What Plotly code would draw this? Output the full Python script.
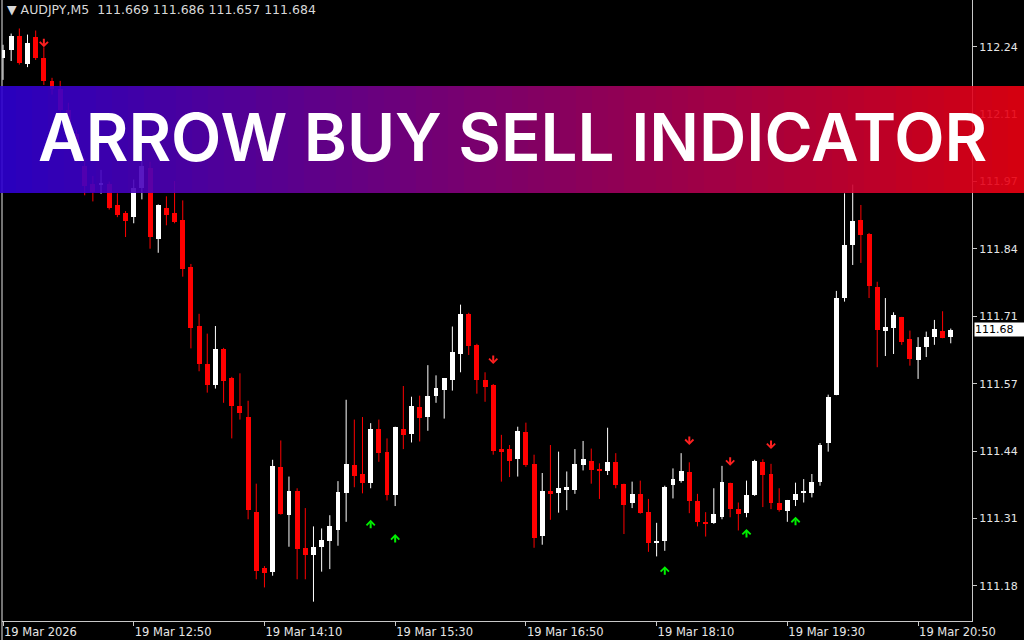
import plotly.graph_objects as go

# ---------------- data (AUDJPY M5, 19 Mar 2026) ----------------
start_minutes = 11 * 60 + 30
times = [f"{(start_minutes + 5 * i) // 60:02d}:{(start_minutes + 5 * i) % 60:02d}" for i in range(117)]

opens = [112.218, 112.233, 112.261, 112.207, 112.259, 112.217, 112.173, 112.157, 112.115, 112.069,
         112.006, 111.971, 111.969, 111.971, 111.928, 111.913, 111.905, 111.963, 112.002, 111.862,
         111.923, 111.913, 111.899, 111.808, 111.691, 111.617, 111.575, 111.646, 111.588, 111.533,
         111.513, 111.326, 111.215, 111.208, 111.413, 111.320, 111.367, 111.254, 111.241, 111.257,
         111.269, 111.289, 111.363, 111.418, 111.400, 111.382, 111.489, 111.444, 111.358, 111.489,
         111.479, 111.531, 111.513, 111.554, 111.565, 111.585, 111.636, 111.714, 111.653, 111.585,
         111.575, 111.449, 111.449, 111.430, 111.483, 111.419, 111.279, 111.367, 111.363, 111.369,
         111.369, 111.417, 111.426, 111.410, 111.405, 111.424, 111.381, 111.343, 111.361, 111.326,
         111.264, 111.269, 111.378, 111.387, 111.403, 111.347, 111.306, 111.303, 111.316, 111.383,
         111.331, 111.323, 111.359, 111.423, 111.400, 111.343, 111.328, 111.349, 111.362, 111.363,
         111.385, 111.461, 111.556, 111.747, 111.851, 111.900, 111.872, 111.767, 111.682, 111.687,
         111.708, 111.666, 111.624, 111.649, 111.670, 111.682, 111.669]
highs = [112.244, 112.266, 112.276, 112.264, 112.272, 112.239, 112.179, 112.173, 112.130, 112.077,
         112.022, 111.986, 111.998, 111.975, 111.952, 111.917, 111.979, 112.018, 112.014, 111.930,
         111.946, 111.976, 111.938, 111.813, 111.715, 111.676, 111.691, 111.648, 111.591, 111.598,
         111.544, 111.381, 111.219, 111.428, 111.466, 111.395, 111.372, 111.333, 111.297, 111.293,
         111.319, 111.386, 111.546, 111.507, 111.512, 111.500, 111.507, 111.470, 111.493, 111.573,
         111.552, 111.554, 111.614, 111.594, 111.588, 111.690, 111.733, 111.717, 111.656, 111.600,
         111.577, 111.477, 111.457, 111.493, 111.501, 111.438, 111.402, 111.457, 111.444, 111.405,
         111.449, 111.465, 111.450, 111.421, 111.491, 111.441, 111.381, 111.385, 111.387, 111.351,
         111.304, 111.377, 111.411, 111.441, 111.423, 111.361, 111.325, 111.372, 111.416, 111.383,
         111.344, 111.387, 111.428, 111.429, 111.420, 111.372, 111.349, 111.383, 111.390, 111.400,
         111.461, 111.556, 111.760, 111.952, 111.969, 111.929, 111.874, 111.778, 111.746, 111.718,
         111.709, 111.682, 111.669, 111.680, 111.703, 111.720, 111.686]
lows = [112.175, 112.212, 112.205, 112.200, 112.214, 112.165, 112.146, 112.110, 112.071, 112.014,
        111.948, 111.936, 111.951, 111.920, 111.905, 111.866, 111.893, 111.940, 111.843, 111.835,
        111.889, 111.893, 111.788, 111.647, 111.602, 111.560, 111.568, 111.540, 111.470, 111.507,
        111.311, 111.193, 111.177, 111.200, 111.320, 111.257, 111.193, 111.193, 111.149, 111.208,
        111.213, 111.259, 111.306, 111.374, 111.362, 111.372, 111.424, 111.348, 111.337, 111.449,
        111.462, 111.464, 111.485, 111.540, 111.509, 111.564, 111.600, 111.634, 111.558, 111.542,
        111.438, 111.385, 111.394, 111.395, 111.414, 111.255, 111.261, 111.310, 111.324, 111.329,
        111.361, 111.407, 111.381, 111.351, 111.398, 111.372, 111.282, 111.333, 111.322, 111.247,
        111.238, 111.249, 111.352, 111.383, 111.323, 111.297, 111.277, 111.302, 111.311, 111.315,
        111.289, 111.315, 111.357, 111.335, 111.331, 111.326, 111.306, 111.337, 111.344, 111.354,
        111.377, 111.444, 111.555, 111.739, 111.811, 111.815, 111.746, 111.610, 111.632, 111.636,
        111.654, 111.613, 111.587, 111.630, 111.654, 111.667, 111.657]
closes = [112.234, 112.262, 112.208, 112.247, 112.217, 112.173, 112.157, 112.115, 112.076, 112.022,
          111.967, 111.955, 111.973, 111.924, 111.909, 111.897, 111.963, 112.006, 111.866, 111.928,
          111.909, 111.896, 111.804, 111.687, 111.616, 111.575, 111.645, 111.582, 111.533, 111.520,
          111.329, 111.210, 111.206, 111.415, 111.322, 111.367, 111.252, 111.241, 111.256, 111.270,
          111.298, 111.364, 111.419, 111.396, 111.382, 111.488, 111.441, 111.358, 111.492, 111.477,
          111.534, 111.510, 111.554, 111.569, 111.588, 111.640, 111.714, 111.651, 111.585, 111.572,
          111.446, 111.444, 111.426, 111.485, 111.417, 111.275, 111.367, 111.361, 111.372, 111.375,
          111.419, 111.429, 111.408, 111.406, 111.423, 111.379, 111.339, 111.361, 111.324, 111.265,
          111.269, 111.375, 111.391, 111.405, 111.347, 111.305, 111.303, 111.321, 111.385, 111.331,
          111.322, 111.359, 111.426, 111.398, 111.343, 111.329, 111.349, 111.361, 111.367, 111.385,
          111.457, 111.552, 111.746, 111.851, 111.898, 111.870, 111.769, 111.683, 111.690, 111.713,
          111.660, 111.626, 111.649, 111.669, 111.685, 111.668, 111.684]

# indicator signals (bar index and arrow price level)
sell_idx = [5, 60, 84, 89, 94]
sell_level = [112.249, 111.626, 111.467, 111.426, 111.459]
buy_idx = [45, 48, 81, 91, 97]
buy_level = [111.300, 111.272, 111.209, 111.282, 111.306]

x_tick_times = ["11:30", "12:50", "14:10", "15:30", "16:50", "18:10", "19:30", "20:50"]
x_tick_labels = ["19 Mar 2026", "19 Mar 12:50", "19 Mar 14:10", "19 Mar 15:30",
                 "19 Mar 16:50", "19 Mar 18:10", "19 Mar 19:30", "19 Mar 20:50"]
y_tick_values = [111.180, 111.3125, 111.445, 111.5775, 111.710, 111.8425, 111.975, 112.1075, 112.240]
y_tick_labels = ["111.18", "111.31", "111.44", "111.57", "111.71", "111.84", "111.97", "112.11", "112.24"]

header_text = "▼ AUDJPY,M5\u00a0\u00a0111.669 111.686 111.657 111.684"
banner_text = "ARROW BUY SELL INDICATOR"

# ---------------- geometry / style ----------------
W, H = 1024, 640
ML, MR, MT, MB = 2, 52, 0, 19
PW, PH = W - ML - MR, H - MT - MB
BULL, BEAR = "#ffffff", "#ff0000"
SELL_COL, BUY_COL = "#ff2020", "#00f000"
AXIS = "#c8c8c8"


def px_x(p):
    return (p - ML) / PW


def px_y(p):
    return 1 - (p - MT) / PH


fig = go.Figure()

# wicks
for is_bull, col in [(True, BULL), (False, BEAR)]:
    wx, wy = [], []
    for t, o, h, l, c in zip(times, opens, highs, lows, closes):
        if (c > o) == is_bull:
            wx += [t, t, None]
            wy += [l, h, None]
    fig.add_trace(go.Scatter(x=wx, y=wy, mode="lines", line=dict(color=col, width=1),
                             hoverinfo="skip", showlegend=False))

# bodies
min_h = 0.0022
bases, heights, colors = [], [], []
for o, c in zip(opens, closes):
    lo, hi = min(o, c), max(o, c)
    if hi - lo < min_h:
        mid = (hi + lo) / 2
        lo, hi = mid - min_h / 2, mid + min_h / 2
    bases.append(lo)
    heights.append(hi - lo)
    colors.append(BULL if c > o else BEAR)
fig.add_trace(go.Bar(x=times, y=heights, base=bases, width=0.6,
                     marker=dict(color=colors, line=dict(width=0)),
                     hoverinfo="skip", showlegend=False))

shapes = []
# left window border
shapes.append(dict(type="line", xref="paper", yref="paper", x0=0, x1=0,
                   y0=px_y(H), y1=1, line=dict(color="#e8e8e8", width=1), layer="above"))

# gradient banner (vertical strips)
n = 64
left_rgb = (46, 0, 212)
right_rgb = (236, 0, 16)
bx0, bx1, by0, by1 = 0, 1024, 86, 193
step = (bx1 - bx0) / n
for k in range(n):
    f = (k + 0.5) / n
    r = round(left_rgb[0] + (right_rgb[0] - left_rgb[0]) * f)
    g = round(left_rgb[1] + (right_rgb[1] - left_rgb[1]) * f)
    b = round(left_rgb[2] + (right_rgb[2] - left_rgb[2]) * f)
    shapes.append(dict(type="rect", xref="paper", yref="paper",
                       x0=px_x(bx0 + k * step), x1=px_x(bx0 + (k + 1) * step),
                       y0=px_y(by1), y1=px_y(by0),
                       fillcolor=f"rgba({r},{g},{b},0.9)", line=dict(width=0), layer="above"))

annotations = [
    dict(text=banner_text, xref="paper", yref="paper", x=px_x(512), y=px_y(137),
         xanchor="center", yanchor="middle", showarrow=False,
         font=dict(family="Inter", size=65.5, color="#ffffff", weight=600)),
    dict(text=header_text, xref="paper", yref="paper", x=px_x(5), y=1,
         xanchor="left", yanchor="top", showarrow=False,
         font=dict(family="DejaVu Sans", size=12.5, color="#d8d8d8")),
    dict(text="111.68", xref="paper", yref="y", x=1, y=closes[-1], xshift=2,
         xanchor="left", yanchor="middle", showarrow=False, bgcolor="#ffffff",
         borderpad=0, width=50, align="left",
         font=dict(family="DejaVu Sans", size=11, color="#000000")),
]

# indicator arrows (chevron head, tip placed 5px from the signal level, 10px long)
for i, lvl in zip(sell_idx, sell_level):
    annotations.append(dict(x=times[i], y=lvl, xref="x", yref="y", text="", showarrow=True,
                            ax=0, ay=-10, yshift=-5, arrowhead=4, arrowsize=0.8, arrowwidth=2,
                            arrowcolor=SELL_COL, standoff=0, startstandoff=0))
for i, lvl in zip(buy_idx, buy_level):
    annotations.append(dict(x=times[i], y=lvl, xref="x", yref="y", text="", showarrow=True,
                            ax=0, ay=10, yshift=5, arrowhead=4, arrowsize=0.8, arrowwidth=2,
                            arrowcolor=BUY_COL, standoff=0, startstandoff=0))

fig.update_layout(
    width=W, height=H,
    margin=dict(l=ML, r=MR, t=MT, b=MB),
    paper_bgcolor="#000000", plot_bgcolor="#000000",
    showlegend=False, bargap=0,
    shapes=shapes, annotations=annotations,
    xaxis=dict(type="category", categoryorder="array", categoryarray=times,
               range=[-0.122, 118.6], showgrid=False, zeroline=False,
               showline=True, linecolor=AXIS, linewidth=1,
               ticks="outside", ticklen=4, tickcolor=AXIS,
               tickvals=x_tick_times, ticktext=x_tick_labels,
               ticklabelposition="outside right",
               tickfont=dict(family="DejaVu Sans", size=11.5, color="#e6e6e6"),
               fixedrange=True, rangeslider=dict(visible=False)),
    yaxis=dict(side="right", range=[111.111, 112.332], showgrid=False, zeroline=False,
               showline=True, linecolor=AXIS, linewidth=1,
               ticks="outside", ticklen=4, tickcolor=AXIS,
               tickvals=y_tick_values, ticktext=y_tick_labels,
               tickfont=dict(family="DejaVu Sans", size=11, color="#e6e6e6"),
               fixedrange=True),
)

fig.write_html("out.html", config={"displayModeBar": False},
               post_script="document.body.style.margin='0';document.body.style.overflow='hidden';")
